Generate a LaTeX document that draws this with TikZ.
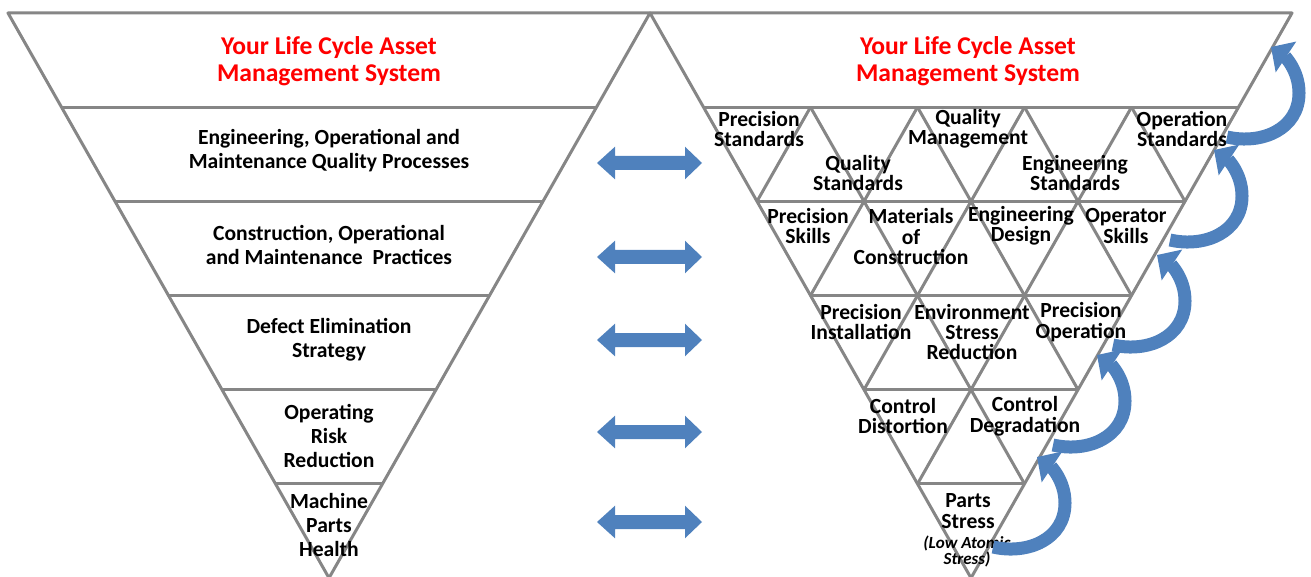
\documentclass[tikz,border=0pt]{standalone}
\usepackage{fontspec}
\setmainfont{Carlito}
\usetikzlibrary{arrows.meta}
\definecolor{lineGray}{RGB}{134,134,134}
\definecolor{officeBlue}{RGB}{79,129,189}
\definecolor{titleRed}{RGB}{255,0,0}
\begin{document}
\begin{tikzpicture}[x=0.5pt,y=-0.5pt,
  edge/.style={draw=lineGray, line width=1.5pt, line join=round},
  lefttext/.style={align=center, font=\bfseries\fontsize{10.8}{12}\selectfont, inner sep=0pt},
  righttext/.style={align=center, font=\bfseries\fontsize{10.8}{10.25}\selectfont, inner sep=0pt},
  smalltext/.style={align=center, font=\bfseries\itshape\fontsize{8.5}{8}\selectfont, inner sep=0pt},
  titletext/.style={align=center, text=titleRed, font=\bfseries\fontsize{12.8}{13.5}\selectfont, inner sep=0pt},
  dblarrow/.style={fill=officeBlue},
  curvarrow/.style={draw=officeBlue, line width=6.5pt, -{Triangle[width=18pt,length=9pt]}}
]
\useasboundingbox (0,0) rectangle (1311,577);
% outlines
\coordinate (LTL) at (8,13);
\coordinate (MID) at (650,13);
\coordinate (RTR) at (1292,13);
\coordinate (LAP) at (329,578);
\coordinate (RAP) at (971,578);
\draw[edge] (LTL) -- (MID) -- (LAP) -- cycle;
\draw[edge] (MID) -- (RTR) -- (RAP) -- cycle;
% left bands and right row lines
\foreach \k in {1,...,5}{
  \draw[edge] ({8+53.5*\k},{13+94.17*\k}) -- ({650-53.5*\k},{13+94.17*\k});
  \draw[edge] ({650+53.5*\k},{13+94.17*\k}) -- ({1292-53.5*\k},{13+94.17*\k});
}
% right triangular grid
\foreach \j in {1,...,4}{
  \draw[edge] ({703.5+107*\j},107.17) -- ({971+53.5*\j},{13+94.17*(6-\j)});
  \draw[edge] ({703.5+107*\j},107.17) -- ({703.5+53.5*\j},{13+94.17*(1+\j)});
}
% left texts
\node[titletext] (ltitle) at (329,61) {Your Life Cycle Asset\\Management System};
\node[lefttext] (l1) at (329,151) {Engineering, Operational and\\Maintenance Quality Processes};
\node[lefttext] (l2) at (329,245) {Construction, Operational\\and Maintenance\ \ Practices};
\node[lefttext] (l3) at (329,340) {Defect Elimination\\Strategy};
\node[lefttext] (l4) at (329,436) {Operating\\Risk\\Reduction};
\node[lefttext] (l5) at (329,525) {Machine\\Parts\\Health};
% right texts
\node[titletext] (rtitle) at (968,61) {Your Life Cycle Asset\\Management System};
\node[righttext] (r11) at (759,129) {Precision\\Standards};
\node[righttext] (r12) at (968,129) {Quality\\Management};
\node[righttext] (r13) at (1182,129) {Operation\\Standards};
\node[righttext] (r14) at (858,173) {Quality\\Standards};
\node[righttext] (r15) at (1075,173) {Engineering\\Standards};
\node[righttext] (r21) at (808,226) {Precision\\Skills};
\node[righttext] (r22) at (911,237) {Materials\\of\\Construction};
\node[righttext] (r23) at (1021,226) {Engineering\\Design};
\node[righttext] (r24) at (1126,226) {Operator\\Skills};
\node[righttext] (r31) at (861,322) {Precision\\Installation};
\node[righttext] (r32) at (972,332) {Environment\\Stress\\Reduction};
\node[righttext] (r33) at (1081,322) {Precision\\Operation};
\node[righttext] (r41) at (903,416) {Control\\Distortion};
\node[righttext] (r42) at (1025,416) {Control\\Degradation};
\node[righttext] (r51) at (968,511) {Parts\\Stress};
\node[smalltext] (r52) at (967,551) {(Low Atomic\\Stress)};
% double arrows
\foreach \c in {163,257,340,432,522}{
  \fill[dblarrow] (597,\c) -- (615,\c-16.3) -- (615,\c-7) -- (685,\c-7) -- (685,\c-16.3)
    -- (702,\c) -- (685,\c+16.3) -- (685,\c+7) -- (615,\c+7) -- (615,\c+16.3) -- cycle;
}
% curved arrows
\foreach \tx/\ty in {1227/137,1170/240,1113/345,1053/445,993/547}{
  \draw[curvarrow] (\tx,\ty) .. controls (\tx+35,\ty+8) and (\tx+72,\ty-8) .. (\tx+72,\ty-44)
    .. controls (\tx+72,\ty-68) and (\tx+56,\ty-82) .. (\tx+44,\ty-90);
}
\end{tikzpicture}
\end{document}
